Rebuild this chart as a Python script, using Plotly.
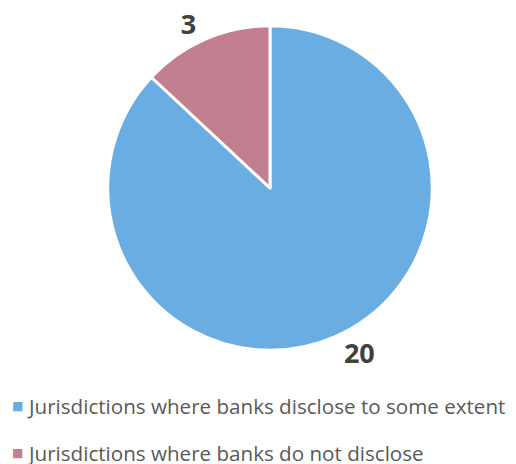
import plotly.graph_objects as go

labels = ["Jurisdictions where banks disclose to some extent",
          "Jurisdictions where banks do not disclose"]
values = [20, 3]
colors = ["#6AADE2", "#C27F8F"]

fig = go.Figure(go.Pie(
    labels=labels,
    values=values,
    sort=False,
    direction="clockwise",
    rotation=0,
    marker=dict(colors=colors, line=dict(color="white", width=3)),
    textinfo="value",
    textposition="outside",
    outsidetextfont=dict(family="Open Sans", size=27, color="#404040", weight="bold"),
    domain=dict(x=[106/516, 434/516], y=[115/464, 443/464]),
    hoverinfo="label+value",
    showlegend=False,
))

# Legend drawn as annotations (Excel-style spacing)
leg_x_sym = 10 / 516
leg_x_txt = 25 / 516
leg_y0 = 1 - 405 / 464
leg_gap = 48 / 464
for i, (lab, col) in enumerate(zip(labels, colors)):
    y = leg_y0 - i * leg_gap
    fig.add_annotation(x=leg_x_sym, y=y, xref="paper", yref="paper",
                       xanchor="left", yanchor="middle", showarrow=False,
                       text="■", font=dict(family="DejaVu Sans", size=12, color=col))
    fig.add_annotation(x=leg_x_txt, y=y, xref="paper", yref="paper",
                       xanchor="left", yanchor="middle", showarrow=False,
                       text=lab, font=dict(family="Open Sans", size=20.6, color="#595959"))

fig.update_layout(
    width=516, height=464,
    margin=dict(l=0, r=0, t=0, b=0),
    paper_bgcolor="white",
)

fig.write_html("out.html", config={"displayModeBar": False},
               post_script="document.body.style.margin='0px';document.body.style.padding='0px';")
